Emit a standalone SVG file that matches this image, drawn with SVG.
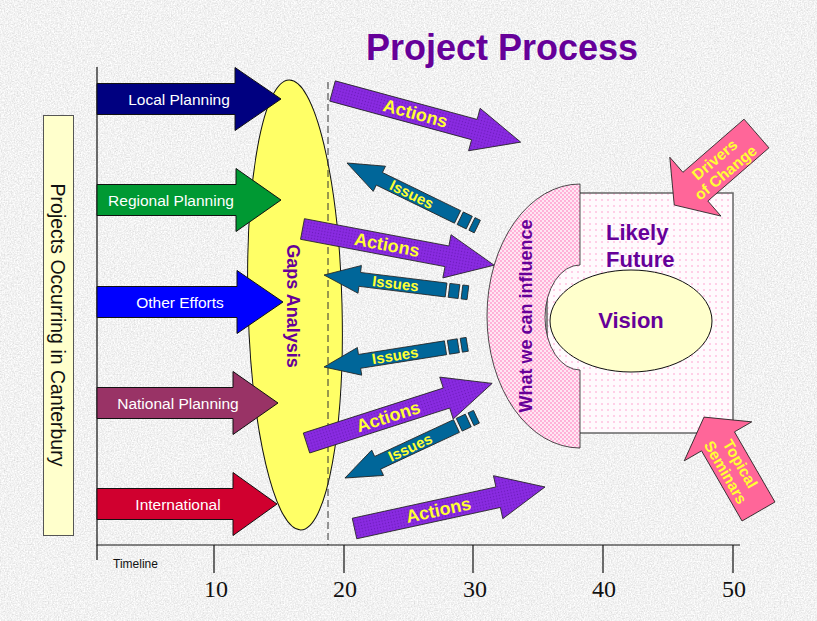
<svg xmlns="http://www.w3.org/2000/svg" width="817" height="621" viewBox="0 0 817 621">
<style>
.ax{stroke:#111;stroke-width:1.2;fill:none}
.big{stroke:#111;stroke-width:1}
.wt{font-family:'Liberation Sans',Arial,sans-serif;font-size:15.5px;fill:#fff;text-anchor:middle}
.pt{font-family:'Liberation Sans',Arial,sans-serif;font-weight:bold;fill:#660099}
.yt{font-family:'Liberation Sans',Arial,sans-serif;font-weight:bold;fill:#ffff33;text-anchor:middle}
.num{font-family:'Liberation Serif','Times New Roman',serif;font-size:24px;fill:#111;text-anchor:middle}
.act{fill:url(#pp);stroke:#222;stroke-width:0.8}
.iss{fill:#006699;stroke:#222;stroke-width:0.8}
.pk{fill:#ff6699;stroke:#222;stroke-width:0.8}
</style>
<defs>
<filter id="grain" x="0" y="0" width="100%" height="100%">
<feTurbulence type="fractalNoise" baseFrequency="0.7" numOctaves="3" seed="4"/>
<feColorMatrix type="matrix" values="0.45 0 0 0 0.66  0.45 0 0 0 0.66  0.45 0 0 0 0.66  0 0 0 0 1"/>
</filter>
<pattern id="pp" width="3" height="3" patternUnits="userSpaceOnUse">
<rect width="3" height="3" fill="#8a2be2"/><circle cx="1.5" cy="1.5" r="0.7" fill="#6a1ab8"/>
</pattern>
<pattern id="pink" width="4" height="4" patternUnits="userSpaceOnUse">
<rect width="4" height="4" fill="#ffe6f3"/><circle cx="1" cy="1" r="0.9" fill="#ff99cc"/><circle cx="3" cy="3" r="0.9" fill="#ff99cc"/>
</pattern>
<pattern id="dots" width="6" height="6" patternUnits="userSpaceOnUse">
<rect width="6" height="6" fill="#fffafd"/><circle cx="2" cy="2" r="0.8" fill="#ff99cc"/>
</pattern>
<path id="actp" d="M0,-10.5 H147 V-22 L195,0 L147,22 V10.5 H0 Z"/>
<g id="issp">
<path d="M0,0 L36,-14 V-7 H123 V7 H36 V14 Z"/>
<rect x="126" y="-7" width="10" height="14"/>
<rect x="139" y="-7" width="6" height="14"/>
</g>
<path id="pkp" d="M0,-19 H81 V-39 L109,0 L81,39 V19 H0 Z"/>
</defs>

<rect width="817" height="621" fill="#e2e2e2"/>
<rect width="817" height="621" filter="url(#grain)"/>

<text x="502" y="60" class="pt" font-size="36" text-anchor="middle">Project Process</text>

<g id="axes">
<path class="ax" d="M97,67 V545 H740"/>
<path class="ax" d="M97,545 V560 M214,545 V573 M344,545 V573 M473,545 V573 M603,545 V573 M733,545 V573"/>
<text x="113" y="568" font-family="'Liberation Sans',Arial,sans-serif" font-size="12" fill="#111">Timeline</text>
<text x="216" y="597" class="num">10</text>
<text x="345" y="597" class="num">20</text>
<text x="475" y="597" class="num">30</text>
<text x="604" y="597" class="num">40</text>
<text x="734" y="597" class="num">50</text>
</g>

<g id="projects">
<rect x="43.5" y="115.5" width="30" height="420" fill="#ffffcc" stroke="#555" stroke-width="1"/>
<text transform="translate(51,325) rotate(90)" font-family="'Liberation Sans',Arial,sans-serif" font-size="19.5" fill="#111" text-anchor="middle">Projects Occurring in Canterbury</text>
</g>

<g id="gaps">
<ellipse cx="295" cy="305" rx="47" ry="225" transform="rotate(-1.5 295 305)" fill="#ffff66" stroke="#111" stroke-width="1"/>
<text transform="translate(287,306) rotate(90)" class="pt" font-size="18" text-anchor="middle">Gaps Analysis</text>
</g>

<g id="local">
<path class="big" fill="#000080" d="M97,83.5 H235 V67.5 L281,99 L235,130.5 V114.5 H97 Z"/>
<text x="179" y="105" class="wt">Local Planning</text>
</g>
<g id="regional">
<path class="big" fill="#009933" d="M97,184.5 H236 V168.5 L281,200 L236,231.5 V215.5 H97 Z"/>
<text x="171" y="206" class="wt">Regional Planning</text>
</g>
<g id="other">
<path class="big" fill="#0000ff" d="M97,286.5 H237 V270.5 L283,302 L237,333.5 V317.5 H97 Z"/>
<text x="180" y="308" class="wt">Other Efforts</text>
</g>
<g id="national">
<path class="big" fill="#993366" d="M97,387.5 H233 V371.5 L278,403 L233,434.5 V418.5 H97 Z"/>
<text x="178" y="409" class="wt">National Planning</text>
</g>
<g id="international">
<path class="big" fill="#d0002f" d="M97,488.5 H233 V472.5 L277,504 L233,535.5 V519.5 H97 Z"/>
<text x="178" y="510" class="wt">International</text>
</g>

<line x1="328" y1="82" x2="328" y2="545" stroke="#333" stroke-width="1" stroke-dasharray="7,4"/>

<g id="likely-future">
<rect x="547" y="193" width="186" height="240" fill="url(#dots)" stroke="#666" stroke-width="1.5"/>
<text x="606" y="240" class="pt" font-size="22">Likely</text>
<text x="606" y="267" class="pt" font-size="22">Future</text>
</g>

<g id="influence">
<path d="M580,184 A93,132 0 0 0 580,448 V370 A35,52.5 0 0 1 580,265 Z" fill="url(#pink)" stroke="#222" stroke-width="0.8"/>
<text transform="translate(532,316) rotate(-90)" class="pt" font-size="18" text-anchor="middle">What we can influence</text>
</g>

<g id="vision">
<ellipse cx="631" cy="321" rx="81" ry="51" fill="#ffffcc" stroke="#111" stroke-width="1"/>
<text x="631" y="328" class="pt" font-size="22" text-anchor="middle">Vision</text>
</g>

<g id="drivers">
<use href="#pkp" class="pk" transform="translate(756.5,133.5) rotate(139)"/>
<g transform="translate(720,166) rotate(-40)" class="yt" font-size="15.5">
<text x="0" y="-3">Drivers</text>
<text x="0" y="14">of Change</text>
</g>
</g>

<g id="topical">
<use href="#pkp" class="pk" transform="translate(758.5,511.5) rotate(-120)"/>
<g transform="translate(733,468) rotate(60)" class="yt" font-size="15.5">
<text x="0" y="-3">Topical</text>
<text x="0" y="14">Seminars</text>
</g>
</g>

<g id="connectors">
<g transform="translate(332.5,91) rotate(15.2)"><use href="#actp" class="act"/><text x="86" y="6" class="yt" font-size="18">Actions</text></g>
<g transform="translate(302.5,229) rotate(10.7)"><use href="#actp" class="act"/><text x="86" y="6" class="yt" font-size="18">Actions</text></g>
<g transform="translate(306.5,443) rotate(-17.8)"><use href="#actp" class="act"/><text x="86" y="6" class="yt" font-size="18">Actions</text></g>
<g transform="translate(354.5,528.5) rotate(-12.3)"><use href="#actp" class="act"/><text x="86" y="6" class="yt" font-size="18">Actions</text></g>
<g transform="translate(347,163) rotate(26)"><use href="#issp" class="iss"/><text x="72" y="5" class="yt" font-size="15">Issues</text></g>
<g transform="translate(324,275) rotate(7)"><use href="#issp" class="iss"/><text x="72" y="5" class="yt" font-size="15">Issues</text></g>
<g transform="translate(324,367) rotate(-9)"><use href="#issp" class="iss"/><text x="72" y="5" class="yt" font-size="15">Issues</text></g>
<g transform="translate(345,478) rotate(-25)"><use href="#issp" class="iss"/><text x="72" y="5" class="yt" font-size="15">Issues</text></g>
</g>
</svg>
